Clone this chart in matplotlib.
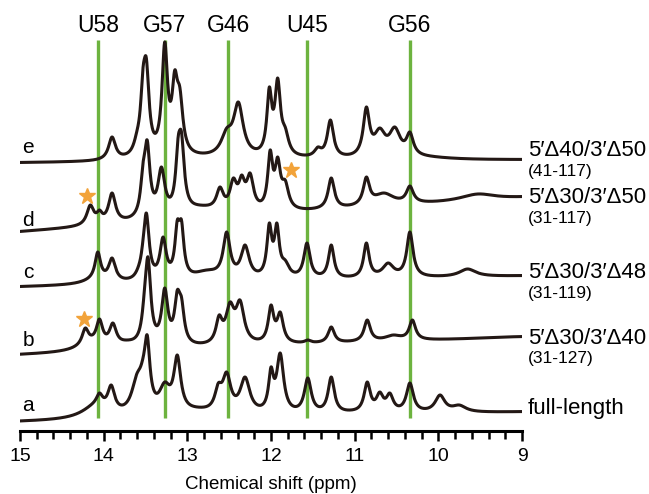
"""Stacked 1D imino-NMR spectra of five RNA constructs (9-15 ppm)."""

import numpy as np
import matplotlib

matplotlib.use("Agg")
import matplotlib.pyplot as plt

plt.rcParams["font.family"] = ["Liberation Sans", "DejaVu Sans"]

# --- data (y in pixels from the top of the figure) ---
TRACE_KEYS = ["a", "b", "c", "d", "e"]
TRACE_NAMES = ["full-length", "5′Δ30/3′Δ40", "5′Δ30/3′Δ48", "5′Δ30/3′Δ50", "5′Δ40/3′Δ50"]
TRACE_RANGES = ["", "(31-127)", "(31-119)", "(31-117)", "(41-117)"]

# baseline pixel row at 15 ppm and at 9 ppm
BASE_LEFT = {"a": 422, "b": 355, "c": 287, "d": 232, "e": 163}
BASE_RIGHT = {"a": 412, "b": 337, "c": 276, "d": 198, "e": 160}

# peaks: ppm, apex pixel row, half width (ppm)
PEAKS_A = [
    (14.10, 400, 0.20), (14.05, 393, 0.045), (13.91, 385, 0.05), (13.60, 373, 0.08),
    (13.53, 358, 0.05), (13.48, 335, 0.04), (13.27, 382, 0.08), (13.12, 355, 0.05),
    (12.88, 407, 0.25), (12.63, 383, 0.05), (12.53, 372, 0.06), (12.31, 377, 0.07),
    (12.00, 367, 0.035), (11.89, 353, 0.05), (11.56, 378, 0.05), (11.28, 377, 0.045),
    (11.05, 410, 0.20), (10.85, 382, 0.045), (10.70, 392, 0.05), (10.58, 393, 0.05),
    (10.34, 383, 0.05), (9.98, 395, 0.07), (9.75, 405, 0.10),
]
PEAKS_B = [
    (14.15, 335, 0.20), (14.22, 328, 0.045), (14.05, 319, 0.045), (13.89, 323, 0.05),
    (13.72, 340, 0.15), (13.51, 287, 0.04), (13.47, 257, 0.04), (13.27, 288, 0.045),
    (13.12, 290, 0.04), (13.07, 297, 0.04), (12.85, 343, 0.25), (12.62, 315, 0.045),
    (12.49, 302, 0.06), (12.37, 300, 0.06), (12.00, 305, 0.04), (11.89, 312, 0.045),
    (11.56, 340, 0.045), (11.28, 327, 0.045), (10.85, 320, 0.045), (10.54, 335, 0.12),
    (10.31, 320, 0.045), (9.78, 342, 0.20), (9.20, 337, 0.30),
]
PEAKS_C = [
    (14.10, 262, 0.18), (14.07, 252, 0.04), (13.90, 258, 0.05), (13.58, 265, 0.05),
    (13.53, 240, 0.035), (13.49, 213, 0.04), (13.29, 237, 0.045), (13.12, 220, 0.035),
    (13.07, 220, 0.035), (12.77, 270, 0.20), (12.53, 232, 0.05), (12.31, 245, 0.06),
    (12.02, 223, 0.035), (11.93, 223, 0.035), (11.83, 260, 0.06), (11.57, 243, 0.045),
    (11.28, 245, 0.04), (11.10, 277, 0.20), (10.86, 243, 0.04), (10.60, 263, 0.08),
    (10.34, 232, 0.045), (9.65, 269, 0.12),
]
PEAKS_D = [
    (14.16, 205, 0.05), (14.05, 210, 0.04), (13.90, 193, 0.05), (13.60, 213, 0.05),
    (13.53, 163, 0.035), (13.48, 140, 0.04), (13.31, 167, 0.05), (13.11, 137, 0.035),
    (13.07, 132, 0.04), (12.85, 205, 0.30), (12.61, 187, 0.05), (12.45, 178, 0.05),
    (12.35, 175, 0.045), (12.25, 173, 0.05), (12.01, 150, 0.035), (11.92, 157, 0.04),
    (11.83, 180, 0.05), (11.62, 210, 0.30), (11.28, 178, 0.045), (10.86, 177, 0.045),
    (10.65, 193, 0.15), (10.34, 186, 0.05), (9.86, 205, 0.30), (9.53, 194, 0.25),
    (9.10, 197, 0.30),
]
PEAKS_E = [
    (13.90, 137, 0.05), (13.75, 158, 0.20), (13.60, 130, 0.05), (13.53, 68, 0.035),
    (13.49, 58, 0.04), (13.27, 42, 0.04), (13.15, 70, 0.04), (13.09, 87, 0.045),
    (12.80, 153, 0.60), (12.53, 128, 0.08), (12.39, 102, 0.07), (12.02, 87, 0.035),
    (11.92, 78, 0.04), (11.83, 127, 0.05), (11.60, 155, 0.50), (11.44, 147, 0.05),
    (11.29, 120, 0.045), (10.86, 107, 0.045), (10.70, 128, 0.08), (10.52, 127, 0.08),
    (10.34, 132, 0.05), (10.15, 155, 0.40),
]
PEAKS = {"a": PEAKS_A, "b": PEAKS_B, "c": PEAKS_C, "d": PEAKS_D, "e": PEAKS_E}

# trace letter rows and right-hand label rows (pixel rows)
LETTER_ROW = {"a": 405, "b": 340, "c": 272, "d": 220, "e": 147}
NAME_ROW = {"a": 408, "b": 338, "c": 272, "d": 197, "e": 150}
RANGE_ROW = {"a": 0, "b": 358, "c": 293, "d": 218, "e": 171}

REF_NAMES = ["U58", "G57", "G46", "U45", "G56"]
REF_PPM = [14.07, 13.27, 12.51, 11.57, 10.34]

STAR_PPM = [14.20, 11.76, 14.23]
STAR_ROW = [196, 170, 319]

LINE_COLOR = "#231815"
GREEN = "#6db33f"
ORANGE = "#f2a33a"
H = 431  # pixel row of the ppm axis


def lorentz(x, c, w):
    return 1.0 / (1.0 + ((x - c) / w) ** 2)


def base_row(key, ppm):
    return BASE_LEFT[key] + (BASE_RIGHT[key] - BASE_LEFT[key]) * (15 - ppm) / 6.0


def build_trace(key, ppm):
    pk = np.array(PEAKS[key], dtype=float)
    c, row, w = pk[:, 0], pk[:, 1], pk[:, 2]
    target = base_row(key, c) - row
    m = lorentz(c[:, None], c[None, :], w[None, :])
    amp = np.clip(np.linalg.solve(m, target), 0, None)
    # projected Gauss-Seidel sweeps so clipped peaks stay consistent
    for _ in range(200):
        for i in range(len(amp)):
            amp[i] = max(0.0, amp[i] + target[i] - m[i] @ amp)
    y = (H - base_row(key, ppm)) + (amp[None, :] * lorentz(ppm[:, None], c[None, :], w[None, :])).sum(1)
    return y


fig = plt.figure(figsize=(6.49, 4.94), dpi=100)
ax = fig.add_axes([20 / 649, 63 / 494, 502 / 649, H / 494])
ax.set_xlim(15, 9)
ax.set_ylim(0, H)

ppm = np.linspace(15, 9, 2400)

for x0 in REF_PPM:
    ax.plot([x0, x0], [H - 418, H - 40], color=GREEN, lw=2.4, zorder=1, solid_capstyle="butt")
for name, x0 in zip(REF_NAMES, REF_PPM):
    ax.text(x0, H - 25, name, ha="center", va="center", fontsize=16.5, clip_on=False)

for key, name, rng in zip(TRACE_KEYS, TRACE_NAMES, TRACE_RANGES):
    ax.plot(ppm, build_trace(key, ppm), color=LINE_COLOR, lw=2.2, zorder=2)
    ax.text(14.90, H - LETTER_ROW[key], key, ha="center", va="center", fontsize=15)
    ax.text(8.93, H - NAME_ROW[key], name, ha="left", va="center", fontsize=16, clip_on=False)
    if rng:
        ax.text(8.93, H - RANGE_ROW[key], rng, ha="left", va="center", fontsize=12.5, clip_on=False)

ax.plot(STAR_PPM, [H - r for r in STAR_ROW], ls="none", marker="*", ms=12,
        color=ORANGE, mec=ORANGE, zorder=3)

for side in ("top", "left", "right"):
    ax.spines[side].set_visible(False)
ax.spines["bottom"].set_linewidth(2.2)
ax.set_yticks([])
ax.set_xticks(range(9, 16))
ax.set_xticks(np.arange(9, 15.01, 0.2), minor=True)
ax.tick_params(axis="x", which="major", direction="out", length=7, width=1.8, labelsize=14, pad=5)
ax.tick_params(axis="x", which="minor", direction="out", length=5.5, width=1.8)
ax.set_xlabel("Chemical shift (ppm)", fontsize=13.5, labelpad=8)

fig.savefig("out.png", dpi=100)
